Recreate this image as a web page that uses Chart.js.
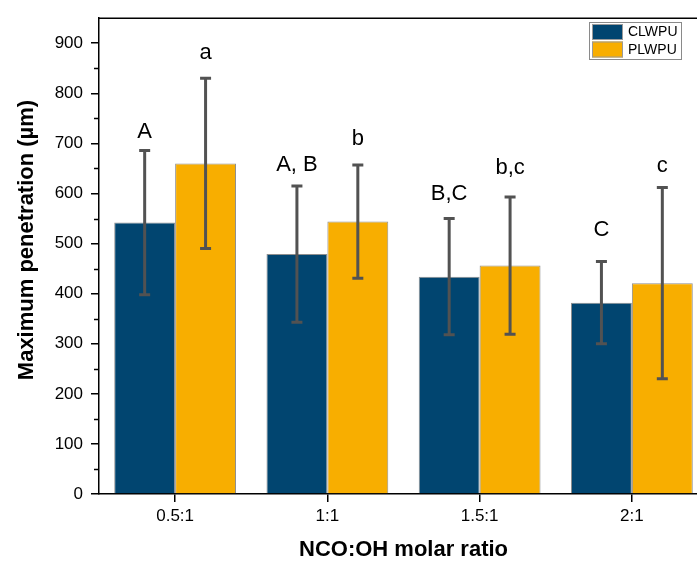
<!DOCTYPE html>
<html>
<head>
<meta charset="utf-8">
<script src="https://cdn.jsdelivr.net/npm/chart.js@4.4.1/dist/chart.umd.min.js"></script>
<style>
  html, body { margin: 0; padding: 0; background: #fff; overflow: hidden; }
  canvas { display: block; }
</style>
</head>
<body>
<canvas id="penChart" width="712" height="562"></canvas>
<script>
// data
const categories = ['0.5:1', '1:1', '1.5:1', '2:1'];
const clwpuValues = [542, 479, 434, 382];
const clwpuErrors = [144, 136, 116, 82];
const plwpuValues = [660, 544, 456, 421];
const plwpuErrors = [170, 113, 137, 191];
// significance letters and the height (in µm) where their baseline sits
const clwpuLetters = ['A', 'A, B', 'B,C', 'C'];
const plwpuLetters = ['a', 'b', 'b,c', 'c'];
const clwpuLetterY = [711, 645, 588, 516];
const plwpuLetterY = [869, 696, 638, 643];

const BLUE = '#014570';
const ORANGE = '#f8ae00';
const FONT = '"Liberation Sans", Arial, sans-serif';

const errorsBySet = [clwpuErrors, plwpuErrors];
const lettersBySet = [clwpuLetters, plwpuLetters];
const letterYBySet = [clwpuLetterY, plwpuLetterY];

const decorations = {
    id: 'decorations',
    afterDatasetsDraw(chart) {
        const ctx = chart.ctx;
        const y = chart.scales.y;
        const area = chart.chartArea;

        ctx.save();
        // error bars
        ctx.strokeStyle = '#525252';
        ctx.lineWidth = 3;
        chart.data.datasets.forEach((ds, di) => {
            const meta = chart.getDatasetMeta(di);
            meta.data.forEach((bar, i) => {
                const v = ds.data[i];
                const e = errorsBySet[di][i];
                const top = y.getPixelForValue(v + e);
                const bot = y.getPixelForValue(v - e);
                ctx.beginPath();
                ctx.moveTo(bar.x, top);
                ctx.lineTo(bar.x, bot);
                ctx.moveTo(bar.x - 5.5, top);
                ctx.lineTo(bar.x + 5.5, top);
                ctx.moveTo(bar.x - 5.5, bot);
                ctx.lineTo(bar.x + 5.5, bot);
                ctx.stroke();
            });
        });

        // letters
        ctx.fillStyle = '#000';
        ctx.font = '22px ' + FONT;
        ctx.textAlign = 'center';
        ctx.textBaseline = 'alphabetic';
        chart.data.datasets.forEach((ds, di) => {
            const meta = chart.getDatasetMeta(di);
            meta.data.forEach((bar, i) => {
                ctx.fillText(lettersBySet[di][i], bar.x, y.getPixelForValue(letterYBySet[di][i]));
            });
        });

        // top frame line
        ctx.strokeStyle = '#000';
        ctx.lineWidth = 1.5;
        ctx.beginPath();
        ctx.moveTo(area.left, area.top);
        ctx.lineTo(area.right, area.top);
        ctx.stroke();

        // minor ticks on y
        ctx.lineWidth = 1.5;
        for (let v = 50; v < 900; v += 100) {
            const py = Math.round(y.getPixelForValue(v)) + 0.5;
            ctx.beginPath();
            ctx.moveTo(area.left - 5, py);
            ctx.lineTo(area.left, py);
            ctx.stroke();
        }

        // axis titles
        ctx.fillStyle = '#000';
        ctx.font = 'bold 22px ' + FONT;
        ctx.textBaseline = 'middle';
        ctx.fillText('NCO:OH molar ratio', (area.left + area.right) / 2, 550);
        ctx.save();
        ctx.translate(27, 240);
        ctx.rotate(-Math.PI / 2);
        ctx.fillText('Maximum penetration (µm)', 0, 0);
        ctx.restore();

        // legend
        const lx = 589, ly = 22;
        ctx.fillStyle = '#fff';
        ctx.fillRect(lx, ly, 92, 37);
        ctx.strokeStyle = '#8a8a8a';
        ctx.lineWidth = 1;
        ctx.strokeRect(lx + 0.5, ly + 0.5, 92, 37);
        chart.data.datasets.forEach((ds, di) => {
            const sy = ly + 2 + di * 17.5;
            ctx.fillStyle = ds.backgroundColor;
            ctx.fillRect(lx + 3, sy, 31, 16);
            ctx.strokeStyle = '#9a9a9a';
            ctx.strokeRect(lx + 3.5, sy + 0.5, 30, 15);
            ctx.fillStyle = '#000';
            ctx.font = '14px ' + FONT;
            ctx.textAlign = 'left';
            ctx.textBaseline = 'middle';
            ctx.fillText(ds.label, lx + 39, sy + 8.5);
        });
        ctx.restore();
    }
};

new Chart(document.getElementById('penChart'), {
    type: 'bar',
    data: {
        labels: categories,
        datasets: [
            {
                label: 'CLWPU',
                data: clwpuValues,
                backgroundColor: BLUE,
                borderColor: '#8f8f8f',
                borderWidth: 1,
                categoryPercentage: 0.8,
                barPercentage: 1
            },
            {
                label: 'PLWPU',
                data: plwpuValues,
                backgroundColor: ORANGE,
                borderColor: '#8f8f8f',
                borderWidth: 1,
                categoryPercentage: 0.8,
                barPercentage: 1
            }
        ]
    },
    options: {
        responsive: false,
        animation: false,
        devicePixelRatio: 1,
        layout: { padding: { top: 14, right: 4, left: 0, bottom: 0 } },
        plugins: {
            legend: { display: false },
            tooltip: { enabled: false }
        },
        scales: {
            x: {
                afterFit: function(scale) { scale.height = 68; },
                grid: {
                    offset: false,
                    drawOnChartArea: false,
                    drawTicks: true,
                    tickLength: 8,
                    lineWidth: 1.5,
                    color: '#000'
                },
                border: { display: true, color: '#000', width: 1.5 },
                ticks: {
                    color: '#000',
                    padding: 4,
                    font: { family: FONT, size: 17 }
                }
            },
            y: {
                min: 0,
                max: 950,
                afterFit: function(scale) { scale.width = 99; },
                grid: {
                    drawOnChartArea: false,
                    drawTicks: true,
                    tickLength: 8,
                    lineWidth: 1.5,
                    color: function(context) {
                        return context.tick && context.tick.value % 100 === 0 ? '#000' : 'rgba(0,0,0,0)';
                    }
                },
                border: { display: true, color: '#000', width: 1.5 },
                ticks: {
                    stepSize: 50,
                    color: '#000',
                    padding: 8,
                    font: { family: FONT, size: 17 },
                    callback: function(value) {
                        return value % 100 === 0 ? value : '';
                    }
                }
            }
        }
    },
    plugins: [decorations]
});
</script>
</body>
</html>
